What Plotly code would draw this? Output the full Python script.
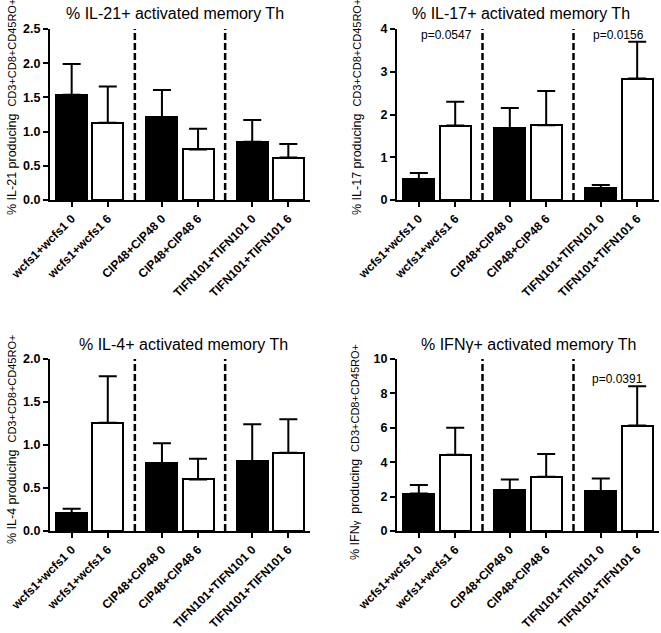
import plotly.graph_objects as go

# ---------------- data ----------------
categories = ["wcfs1+wcfs1 0", "wcfs1+wcfs1 6",
              "CIP48+CIP48 0", "CIP48+CIP48 6",
              "TIFN101+TIFN101 0", "TIFN101+TIFN101 6"]

il21_mean = [1.54, 1.13, 1.21, 0.74, 0.85, 0.62]
il21_sem = [0.45, 0.53, 0.40, 0.30, 0.32, 0.20]

il17_mean = [0.49, 1.74, 1.68, 1.75, 0.28, 2.84]
il17_sem = [0.14, 0.56, 0.47, 0.80, 0.07, 0.86]

il4_mean = [0.21, 1.26, 0.79, 0.60, 0.81, 0.91]
il4_sem = [0.05, 0.54, 0.23, 0.24, 0.43, 0.39]

ifng_mean = [2.18, 4.44, 2.37, 3.15, 2.33, 6.13]
ifng_sem = [0.50, 1.57, 0.63, 1.32, 0.72, 2.29]

il21_ticks = [0.0, 0.5, 1.0, 1.5, 2.0, 2.5]
il17_ticks = [0, 1, 2, 3, 4]
il4_ticks = [0.0, 0.5, 1.0, 1.5, 2.0]
ifng_ticks = [0, 2, 4, 6, 8, 10]

il17_pvalues = ["p=0.0547", "p=0.0156"]
ifng_pvalues = ["p=0.0391"]

# ---------------- layout helpers ----------------
W, H = 661, 633
FONT = "Liberation Sans, Arial, sans-serif"
GROUP_STEP = 2.5
n_groups = 3
x_pos = [g * GROUP_STEP + j for g in range(n_groups) for j in range(2)]
separators = [g * GROUP_STEP + 1.75 for g in range(n_groups - 1)]
bar_colors = ["black", "white"] * n_groups


def px_x(p):
    return p / W


def px_y(p):
    return 1 - p / H


panels = [
    dict(mean=il21_mean, sem=il21_sem, ticks=il21_ticks, fmt=".1f",
         title="% IL-21+ activated memory Th",
         ytitle="% IL-21 producing  <span style='font-size:11px'>CD3+CD8+CD45RO+</span>",
         xdom=(50, 310), ydom=(29, 200), title_xy=(175, 13), ytitle_xy=(12, 107),
         pvals=[]),
    dict(mean=il17_mean, sem=il17_sem, ticks=il17_ticks, fmt="d",
         title="% IL-17+ activated memory Th",
         ytitle="% IL-17 producing  <span style='font-size:11px'>CD3+CD8+CD45RO+</span>",
         xdom=(397, 659), ydom=(29, 200), title_xy=(521, 13), ytitle_xy=(357, 107),
         pvals=[(il17_pvalues[0], 0.77, 3.87), (il17_pvalues[1], 5.49, 3.87)]),
    dict(mean=il4_mean, sem=il4_sem, ticks=il4_ticks, fmt=".1f",
         title="% IL-4+ activated memory Th",
         ytitle="% IL-4 producing  <span style='font-size:11px'>CD3+CD8+CD45RO+</span>",
         xdom=(50, 310), ydom=(359, 531), title_xy=(183, 344), ytitle_xy=(12, 440),
         pvals=[]),
    dict(mean=ifng_mean, sem=ifng_sem, ticks=ifng_ticks, fmt="d",
         title="% IFNγ+ activated memory Th",
         ytitle="% IFN<span style='font-size:9px'>γ</span>  producing  <span style='font-size:11px'>CD3+CD8+CD45RO+</span>",
         xdom=(397, 659), ydom=(359, 531), title_xy=(528, 344), ytitle_xy=(355, 452),
         pvals=[(ifng_pvalues[0], 5.47, 8.84)]),
]

fig = go.Figure()
annotations = []
shapes = []

for i, p in enumerate(panels, start=1):
    xa = "x" if i == 1 else f"x{i}"
    ya = "y" if i == 1 else f"y{i}"
    xkey = "xaxis" if i == 1 else f"xaxis{i}"
    ykey = "yaxis" if i == 1 else f"yaxis{i}"

    fig.add_trace(go.Bar(
        x=x_pos, y=p["mean"], width=0.86,
        marker=dict(color=bar_colors, line=dict(color="black", width=2)),
        error_y=dict(type="data", array=p["sem"], arrayminus=[0] * len(p["sem"]),
                     symmetric=False, color="black", thickness=2, width=9),
        xaxis=xa, yaxis=ya, showlegend=False, cliponaxis=False,
    ))

    fig.update_layout({
        xkey: dict(domain=[px_x(p["xdom"][0]), px_x(p["xdom"][1])],
                   anchor=ya, range=[-0.6, 6.6], automargin=False,
                   tickmode="array", tickvals=x_pos, ticktext=categories,
                   tickangle=-45, ticks="outside", ticklen=5, tickwidth=2,
                   tickcolor="black", showline=True, linewidth=2, linecolor="black",
                   showgrid=False, zeroline=False,
                   tickfont=dict(family=FONT, size=12, color="black", weight="bold")),
        ykey: dict(domain=[px_y(p["ydom"][1]), px_y(p["ydom"][0])],
                   anchor=xa, range=[0, p["ticks"][-1]], automargin=False,
                   tickmode="array", tickvals=p["ticks"], tickformat=p["fmt"],
                   ticks="outside", ticklen=5, tickwidth=2, tickcolor="black",
                   showline=True, linewidth=2, linecolor="black",
                   showgrid=False, zeroline=False,
                   tickfont=dict(family=FONT, size=12.5, color="black", weight="bold")),
    })

    # panel title
    annotations.append(dict(text=p["title"], xref="paper", yref="paper",
                            x=px_x(p["title_xy"][0]), y=px_y(p["title_xy"][1]),
                            xanchor="center", yanchor="middle", showarrow=False,
                            font=dict(family=FONT, size=16, color="black")))
    # y-axis title
    annotations.append(dict(text=p["ytitle"], xref="paper", yref="paper",
                            x=px_x(p["ytitle_xy"][0]), y=px_y(p["ytitle_xy"][1]),
                            xanchor="center", yanchor="middle", textangle=-90,
                            showarrow=False,
                            font=dict(family=FONT, size=12.5, color="black")))
    # p-values
    for txt, px_, py_ in p["pvals"]:
        annotations.append(dict(text=txt, xref=xa, yref=ya, x=px_, y=py_,
                                xanchor="center", yanchor="middle", showarrow=False,
                                font=dict(family=FONT, size=12, color="black")))
    # dashed separators
    for s in separators:
        shapes.append(dict(type="line", xref=xa, yref=f"{ya} domain",
                           x0=s, x1=s, y0=0, y1=1,
                           line=dict(color="black", width=2.5, dash="7px,3px")))

fig.update_layout(
    width=W, height=H,
    margin=dict(l=0, r=0, t=0, b=0, autoexpand=False),
    paper_bgcolor="white", plot_bgcolor="white",
    bargap=0, annotations=annotations, shapes=shapes,
    font=dict(family=FONT, color="black"),
)

fig.write_html("out.html", config={"displayModeBar": False})

# remove the default page margin so the figure sits at the window's top-left
with open("out.html", "r", encoding="utf-8") as f:
    html = f.read()
html = html.replace("<head>", "<head><style>html,body{margin:0;padding:0;overflow:hidden;}</style>", 1)
with open("out.html", "w", encoding="utf-8") as f:
    f.write(html)
